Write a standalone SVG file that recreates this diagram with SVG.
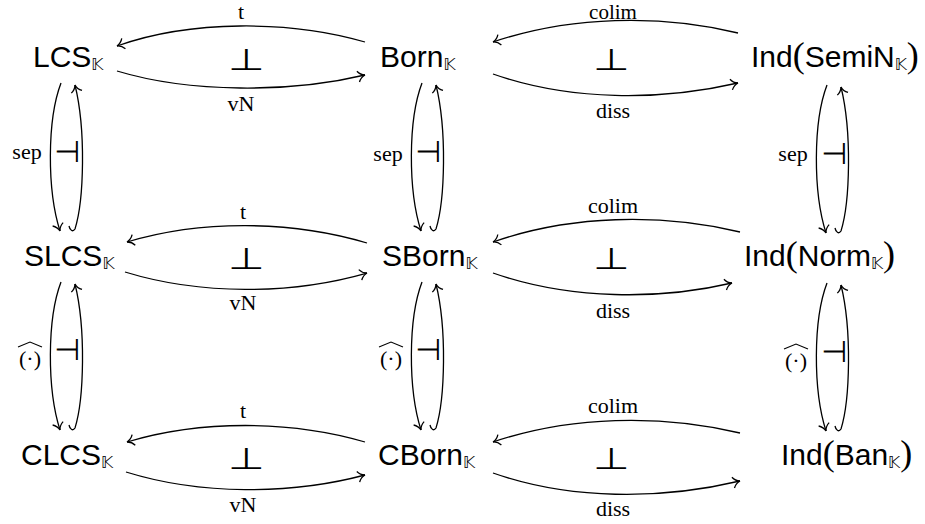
<svg xmlns="http://www.w3.org/2000/svg" width="925" height="524" viewBox="0 0 925 524">
  <style>
    .node { font-family: "Liberation Sans", Arial, sans-serif; font-size: 30px; fill: #000; }
    .k { font-family: "DejaVu Sans", sans-serif; font-size: 16px; fill: #000; }
    .par { font-family: "Liberation Serif", serif; font-size: 36px; }
    .lbl { font-family: "Liberation Serif", "Times New Roman", serif; font-size: 22px; fill: #000; }
    .top { font-size: 21px; }
    .sym { font-family: "DejaVu Sans", sans-serif; font-size: 30px; fill: #000; }
    .edge { fill: none; stroke: #000; stroke-width: 1.3; marker-end: url(#arr); }
    .hat { fill: none; stroke: #000; stroke-width: 1.1; }
  </style>
  <defs>
    <marker id="arr" viewBox="-9 -7 11 14" markerWidth="11" markerHeight="14" refX="0" refY="0" orient="auto" markerUnits="userSpaceOnUse">
      <path d="M -7,-5.5 C -5,-2 -2,-0.5 0,0 M -7,5.5 C -5,2 -2,0.5 0,0" fill="none" stroke="#000" stroke-width="1.3"/>
    </marker>
    <!-- pair of bent arrows between two rows of one column: down on the left, up on the right -->
    <g id="vpair">
      <path class="edge" d="M 61,83 C 47,120 47,190 60,231"/>
      <path class="edge" d="M 69,226 C 70,231 73,232 75,229 C 84,200 86,130 75,85"/>
    </g>
  </defs>

  <!-- row 1 -->
  <g id="lcs"><text class="node" x="33" y="67">LCS<tspan class="k" dy="3">𝕂</tspan></text></g>
  <g id="born"><text class="node" x="380" y="67">Born<tspan class="k" dy="3">𝕂</tspan></text></g>
  <g id="ind-semin"><text class="node" x="751" y="67">Ind<tspan class="par">(</tspan>SemiN<tspan class="k" dy="3">𝕂</tspan><tspan class="par" dy="-3">)</tspan></text></g>

  <!-- row 2 -->
  <g id="slcs"><text class="node" x="24" y="266">SLCS<tspan class="k" dy="3">𝕂</tspan></text></g>
  <g id="sborn"><text class="node" x="382" y="266">SBorn<tspan class="k" dy="3">𝕂</tspan></text></g>
  <g id="ind-norm"><text class="node" x="744" y="266">Ind<tspan class="par">(</tspan>Norm<tspan class="k" dy="3">𝕂</tspan><tspan class="par" dy="-3">)</tspan></text></g>

  <!-- row 3 -->
  <g id="clcs"><text class="node" x="21" y="465">CLCS<tspan class="k" dy="3">𝕂</tspan></text></g>
  <g id="cborn"><text class="node" x="378" y="465">CBorn<tspan class="k" dy="3">𝕂</tspan></text></g>
  <g id="ind-ban"><text class="node" x="781" y="465">Ind<tspan class="par">(</tspan>Ban<tspan class="k" dy="3">𝕂</tspan><tspan class="par" dy="-3">)</tspan></text></g>

  <g id="connectors">
    <!-- row 1 horizontal adjunctions -->
    <path class="edge" d="M 365,42 C 290,20 190,20 117,46"/>
    <path class="edge" d="M 117,71 C 190,93 290,93 365,75"/>
    <path class="edge" d="M 738,33 C 660,14 570,16 493,42"/>
    <path class="edge" d="M 493,74 C 570,101 660,101 738,83"/>
    <!-- row 2 -->
    <path class="edge" d="M 367,243 C 290,220 200,220 127,242"/>
    <path class="edge" d="M 125,272 C 200,295 290,295 367,273"/>
    <path class="edge" d="M 740,232 C 660,213 570,215 493,242"/>
    <path class="edge" d="M 493,273 C 570,300 660,300 732,283"/>
    <!-- row 3 -->
    <path class="edge" d="M 365,442 C 290,420 200,420 127,442"/>
    <path class="edge" d="M 126,472 C 200,495 290,495 365,475"/>
    <path class="edge" d="M 740,433 C 660,414 570,416 493,442"/>
    <path class="edge" d="M 493,473 C 570,500 660,500 740,481"/>
    <!-- vertical adjunctions -->
    <use href="#vpair"/>
    <use href="#vpair" transform="translate(0,199)"/>
    <use href="#vpair" transform="translate(361,0)"/>
    <use href="#vpair" transform="translate(361,199)"/>
    <use href="#vpair" transform="translate(766,2)"/>
    <use href="#vpair" transform="translate(766,200)"/>
  </g>

  <!-- arrow labels -->
  <g id="labels">
    <text class="lbl" x="241" y="19" text-anchor="middle">t</text>
    <text class="lbl" x="241" y="111" text-anchor="middle">vN</text>
    <text class="lbl top" x="613" y="19" text-anchor="middle">colim</text>
    <text class="lbl" x="613" y="118" text-anchor="middle">diss</text>

    <text class="lbl" x="243" y="219" text-anchor="middle">t</text>
    <text class="lbl" x="243" y="310" text-anchor="middle">vN</text>
    <text class="lbl" x="613" y="213" text-anchor="middle">colim</text>
    <text class="lbl" x="613" y="318" text-anchor="middle">diss</text>

    <text class="lbl" x="243" y="418" text-anchor="middle">t</text>
    <text class="lbl" x="243" y="512" text-anchor="middle">vN</text>
    <text class="lbl" x="613" y="413" text-anchor="middle">colim</text>
    <text class="lbl" x="613" y="516" text-anchor="middle">diss</text>

    <text class="lbl" x="27" y="159" text-anchor="middle">sep</text>
    <text class="lbl" x="388" y="161" text-anchor="middle">sep</text>
    <text class="lbl" x="793" y="161" text-anchor="middle">sep</text>

    <text class="lbl" x="30" y="366" text-anchor="middle">(·)</text>
    <path class="hat" d="M 18,347 L 30,342 L 42,347"/>
    <text class="lbl" x="391" y="366" text-anchor="middle">(·)</text>
    <path class="hat" d="M 379,347 L 391,342 L 403,347"/>
    <text class="lbl" x="796" y="368" text-anchor="middle">(·)</text>
    <path class="hat" d="M 784,349 L 796,344 L 808,349"/>
  </g>

  <!-- adjunction symbols, widened to the flat up-tack shape -->
  <g id="adjunctions">
    <text class="sym" transform="translate(246,70) scale(1.4,1)" text-anchor="middle">⊥</text>
    <text class="sym" transform="translate(611,70) scale(1.4,1)" text-anchor="middle">⊥</text>
    <text class="sym" transform="translate(246,269) scale(1.4,1)" text-anchor="middle">⊥</text>
    <text class="sym" transform="translate(611,269) scale(1.4,1)" text-anchor="middle">⊥</text>
    <text class="sym" transform="translate(246,469) scale(1.4,1)" text-anchor="middle">⊥</text>
    <text class="sym" transform="translate(611,469) scale(1.4,1)" text-anchor="middle">⊥</text>

    <text class="sym" x="67" y="162" text-anchor="middle">⊣</text>
    <text class="sym" x="428" y="162" text-anchor="middle">⊣</text>
    <text class="sym" x="834" y="164" text-anchor="middle">⊣</text>
    <text class="sym" x="67" y="360" text-anchor="middle">⊣</text>
    <text class="sym" x="428" y="360" text-anchor="middle">⊣</text>
    <text class="sym" x="834" y="362" text-anchor="middle">⊣</text>
  </g>
</svg>
